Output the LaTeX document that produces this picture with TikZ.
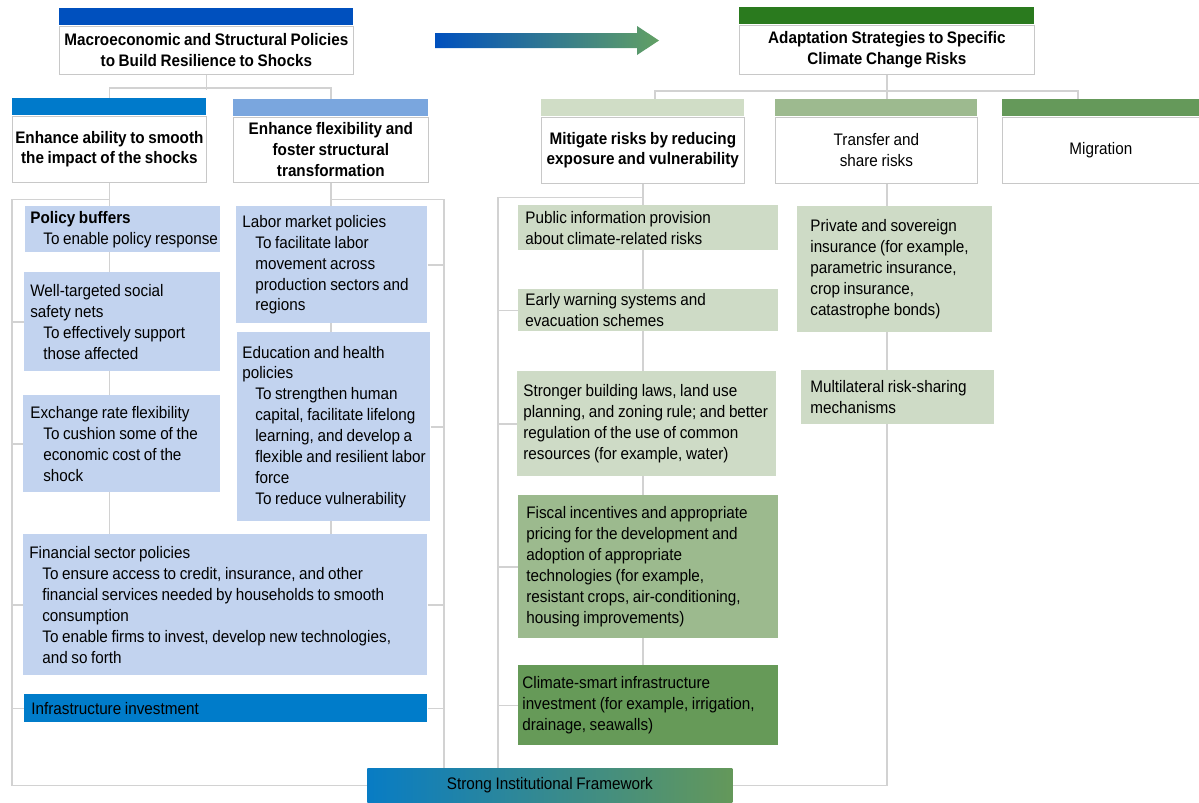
\documentclass[tikz,border=0pt]{standalone}
\usepackage{fontspec}
\setmainfont{Liberation Sans}[FakeStretch=0.915, WordSpace=0.85]
\usepackage{xcolor}
\usetikzlibrary{positioning, backgrounds}

\newlength{\px}
\setlength{\px}{0.02cm}
\hyphenpenalty=10000
\exhyphenpenalty=10000
\newcommand{\subline}[1]{\par{\advance\leftskip by 13\px\relax #1\par}}

\definecolor{macroblue}{HTML}{0050BE}
\definecolor{abilityblue}{HTML}{007ACB}
\definecolor{flexblue}{HTML}{7AA6DE}
\definecolor{adaptgreen}{HTML}{2A7A1E}
\definecolor{mitgreen}{HTML}{D0DDC6}
\definecolor{transgreen}{HTML}{9DBA8F}
\definecolor{miggreen}{HTML}{65995A}
\definecolor{itemblue}{HTML}{C2D3EF}
\definecolor{infrablue}{HTML}{007CCA}
\definecolor{itemgreen}{HTML}{CEDBC6}
\definecolor{fiscgreen}{HTML}{9CBA8E}
\definecolor{climgreen}{HTML}{669A58}
\definecolor{arrowteal}{HTML}{00787E}
\definecolor{arrowgreen}{HTML}{62A064}
\definecolor{strongblue}{HTML}{087CC4}
\definecolor{stronggreen}{HTML}{64985A}
\definecolor{treegray}{HTML}{D2D2D2}
\definecolor{headgray}{HTML}{C8C8C8}

\tikzset{
  tree/.style={draw=treegray, line width=1.5\px},
  bar/.style={anchor=north west, inner sep=0pt, minimum height=17\px},
  head/.style={draw=headgray, line width=1\px, fill=white, inner sep=0pt, align=center,
    font=\fontsize{9.5}{11.9}\selectfont\bfseries,
    execute at begin node={\spaceskip=0pt\xspaceskip=0pt}},
  item/.style={anchor=north west, inner sep=0pt, align=left,
    font=\fontsize{9.5}{11.9}\selectfont},
  size/.code n args={3}{%
    \tikzset{minimum width=#1\px, minimum height=#2\px, text width=#1\px,
      execute at begin node={\leftskip=#3\px\relax\rightskip=0pt plus 1fil minus 20pt\relax
        \spaceskip=0pt\xspaceskip=0pt}}}
}

\begin{document}
\begin{tikzpicture}[x=0.02cm, y=-0.02cm]
\useasboundingbox (0,0) rectangle (1199,802);

% main headers
\node[bar, fill=macroblue, minimum width=294\px] (macrobar) at (59,8) {};
\node[head, minimum width=294\px, minimum height=48\px, below=0pt of macrobar] (macro)
  {Macroeconomic and Structural Policies\\to Build Resilience to Shocks};
\node[bar, fill=adaptgreen, minimum width=295\px] (adaptbar) at (739,7) {};
\node[head, minimum width=295\px, minimum height=49\px, below=0pt of adaptbar] (adapt)
  {Adaptation Strategies to Specific\\Climate Change Risks};

% arrow
\shade[left color=macroblue, middle color=arrowteal, right color=arrowgreen]
  (435,33) -- (637,33) -- (637,26) -- (659,40.5) -- (637,55) -- (637,48) -- (435,48) -- cycle;

% left subheaders
\node[bar, fill=abilityblue, minimum width=194\px] (abilitybar) at (12,98) {};
\node[head, minimum width=194\px, minimum height=66\px, below=0pt of abilitybar] (ability)
  {Enhance ability to smooth\\the impact of the shocks};
\node[bar, fill=flexblue, minimum width=195\px] (flexbar) at (233,99) {};
\node[head, minimum width=195\px, minimum height=65\px, below=0pt of flexbar] (flex)
  {Enhance flexibility and\\foster structural\\transformation};

% right subheaders
\node[bar, fill=mitgreen, minimum width=203\px] (mitbar) at (541,99) {};
\node[head, minimum width=203\px, minimum height=66\px, below=0pt of mitbar] (mit)
  {Mitigate risks by reducing\\exposure and vulnerability};
\node[bar, fill=transgreen, minimum width=202\px] (transbar) at (775,99) {};
\node[head, font=\fontsize{9.5}{11.9}\selectfont, minimum width=202\px, minimum height=66\px,
  below=0pt of transbar] (trans) {Transfer and\\share risks};
\node[bar, fill=miggreen, minimum width=197\px] (migbar) at (1002,99) {};
\node[head, font=\fontsize{9.5}{11.9}\selectfont, minimum width=197\px, minimum height=66\px,
  below=0pt of migbar] (mig) {Migration};

% left items
\node[item, fill=itemblue, size={195}{46}{5}] (buffers) at (25,206)
  {\textbf{Policy buffers}\subline{To enable policy response}};
\node[item, fill=itemblue, size={196}{99}{6}] (safety) at (24,272)
  {Well-targeted social\\safety nets\subline{To effectively support\\those affected}};
\node[item, fill=itemblue, size={197}{97}{7}] (exchange) at (23,395)
  {Exchange rate flexibility\subline{To cushion some of the\\economic cost of the\\shock}};
\node[item, fill=itemblue, size={191}{117}{6}] (labor) at (236,206)
  {Labor market policies\subline{To facilitate labor\\movement across\\production sectors and\\regions}};
\node[item, fill=itemblue, size={193}{189}{5}] (edu) at (237,332)
  {Education and health\\policies\subline{To strengthen human\\capital, facilitate lifelong\\learning, and develop a\\flexible and resilient labor\\force}\subline{To reduce vulnerability}};
\node[item, fill=itemblue, size={404}{141}{6}] (finance) at (23,534)
  {Financial sector policies\subline{To ensure access to credit, insurance, and other\\financial services needed by households to smooth\\consumption}\subline{To enable firms to invest, develop new technologies,\\and so forth}};
\node[item, fill=infrablue, size={403}{28}{7}] (infra) at (24,694) {Infrastructure investment};

% right items
\node[item, fill=itemgreen, size={260}{45}{7}] (public) at (518,205)
  {Public information provision\\about climate-related risks};
\node[item, fill=itemgreen, size={260}{42}{7}] (warning) at (518,289)
  {Early warning systems and\\evacuation schemes};
\node[item, fill=itemgreen, size={259}{105}{6}] (building) at (517,371)
  {Stronger building laws, land use\\planning, and zoning rule; and better\\regulation of the use of common\\resources (for example, water)};
\node[item, fill=fiscgreen, size={260}{143}{8}] (fiscal) at (518,495)
  {Fiscal incentives and appropriate\\pricing for the development and\\adoption of appropriate\\technologies (for example,\\resistant crops, air-conditioning,\\housing improvements)};
\node[item, fill=climgreen, size={260}{80}{4}] (climate) at (518,665)
  {Climate-smart infrastructure\\investment (for example, irrigation,\\drainage, seawalls)};
\node[item, fill=itemgreen, size={195}{126}{13}] (private) at (797,206)
  {Private and sovereign\\insurance (for example,\\parametric insurance,\\crop insurance,\\catastrophe bonds)};
\node[item, fill=itemgreen, size={193}{54}{9}] (multi) at (801,370)
  {Multilateral risk-sharing\\mechanisms};

% base
\node[shade, left color=strongblue, right color=stronggreen, anchor=north west, inner sep=0pt,
  minimum width=365\px, minimum height=34\px, font=\fontsize{9.5}{11.9}\selectfont] (strong)
  at (367,768) {Strong Institutional Framework};

\begin{pgfonlayer}{background}
  % left tree
  \draw[tree] (macro.south) -- ++(0,15);
  \draw[tree] (abilitybar.north) -- ++(0,-10) -| (flexbar.north);
  \draw[tree] (ability.south) -- (ability.south |- finance.north);
  \draw[tree] (flex.south) -- (flex.south |- finance.north);
  \draw[tree] ([yshift=-17\px]ability.south) -| (ability.west |- strong.west) -- (strong.west);
  \draw[tree] ([yshift=-17\px]flex.south) -| ([xshift=15\px]flex.east |- strong.north);
  \foreach \b in {safety, exchange, finance, infra}
    \draw[tree] (\b.west) -- (ability.west |- \b.west);
  \foreach \b in {labor, edu, finance, infra}
    \draw[tree] (\b.east) -- ([xshift=15\px]flex.east |- \b.east);
  % right tree
  \draw[tree] (adapt.south) -- (adapt.south |- transbar.north);
  \draw[tree] ([xshift=12\px]mitbar.north) -- ++(0,-8) -| ([xshift=-23\px]migbar.north);
  \draw[tree] (mit.south) -- (mit.south |- climate.north);
  \draw[tree] ([yshift=-14\px]mit.south) -| ([xshift=-20\px]public.west |- strong.north);
  \foreach \b in {warning, building, fiscal, climate}
    \draw[tree] (\b.west) -- ([xshift=-20\px]public.west |- \b.west);
  \draw[tree] (adapt.south |- trans.south) |- (strong.east);
\end{pgfonlayer}
\end{tikzpicture}
\end{document}
